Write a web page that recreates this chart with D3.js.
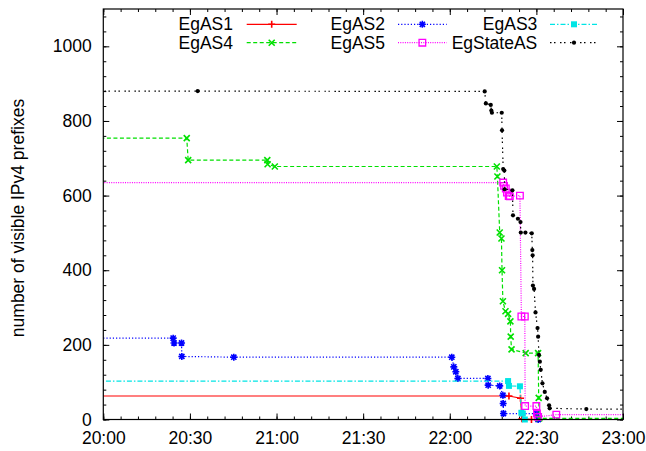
<!DOCTYPE html>
<html><head><meta charset="utf-8">
<script src="https://cdn.jsdelivr.net/npm/d3@7"></script>
<style>
html,body{margin:0;padding:0;background:#fff;}
svg text{font-family:"Liberation Sans",Arial,Helvetica,sans-serif;}
</style></head>
<body><svg id="c" width="646" height="451"></svg>
<script>
// ---- data (times as HH:MM:SS, values = number of visible prefixes) ----
const xTickLabels = ["20:00","20:30","21:00","21:30","22:00","22:30","23:00"];
const yTickValues = [0,200,400,600,800,1000];

const as1Times  = ["19:50:00","22:20:30","22:24:30","22:25:00","22:28:18","23:10:00"];
const as1Values = [63,63,57,2,0,0];

const as2Times  = ["19:50:00","20:24:12","20:24:30","20:27:06","20:27:12","20:45:12","22:00:42","22:01:24","22:02:06","22:02:48","22:13:12","22:13:18","22:17:18","22:18:24","22:18:30","22:18:36","22:30:06","22:30:36","23:10:00"];
const as2Values = [218,218,205,205,169,167,167,141,128,110,110,92,90,65,43,16,16,0,0];

const as3Times  = ["19:50:00","22:20:12","22:20:30","22:24:18","22:24:48","22:25:18","22:26:00","23:10:00"];
const as3Values = [103,103,90,89,18,16,0,0];

const as4Times  = ["19:50:00","20:28:54","20:29:24","20:56:48","20:56:54","20:59:24","22:16:18","22:16:30","22:17:18","22:17:54","22:18:06","22:18:24","22:19:18","22:20:12","22:21:00","22:21:06","22:21:24","22:26:18","22:30:36","22:30:48","22:31:00","23:10:00"];
const as4Values = [754,754,695,695,684,678,678,651,501,485,400,317,290,283,263,222,188,178,178,58,3,3];

const as5Times  = ["19:50:00","22:18:30","22:18:48","22:19:24","22:19:48","22:20:24","22:20:48","22:24:18","22:24:48","22:26:00","22:26:06","22:30:00","22:30:12","22:30:36","22:36:54","23:10:00"];
const as5Values = [635,635,626,619,608,599,598,600,276,276,36,36,16,7,13,13];

const stateTimes  = ["19:50:00","20:32:42","22:12:06","22:12:30","22:14:12","22:14:24","22:14:36","22:18:00","22:18:06","22:18:30","22:18:54","22:19:00","22:21:42","22:21:54","22:23:36","22:24:30","22:24:36","22:26:12","22:28:24","22:28:36","22:28:42","22:28:48","22:29:12","22:29:42","22:30:24","22:30:36","22:30:54","22:31:12","22:31:30","22:32:06","22:32:54","22:33:42","22:34:24","22:34:36","22:47:18","23:10:00"];
const stateValues = [880,880,879,847,843,828,822,822,775,671,667,617,614,547,538,529,501,501,499,454,440,359,350,287,245,222,173,155,133,97,74,57,38,30,28,28];

const seriesNames = ["EgAS1","EgAS2","EgAS3","EgAS4","EgAS5","EgStateAS"];
const yLabel = "number of visible IPv4 prefixes";

// ---- styles ----
const styles = [
  {color:"#ff0000", dash:null,        marker:"plus"},
  {color:"#0000ff", dash:"1.2,2",     marker:"star"},
  {color:"#00e5e5", dash:"5,2,1.5,2", marker:"fsquare"},
  {color:"#00e000", dash:"4,2.5",     marker:"cross"},
  {color:"#ff00ff", dash:"1,1.3",     marker:"osquare"},
  {color:"#000000", dash:"1.5,2.5,1.5,4.5", marker:"circle"}
];
const allTimes = [as1Times,as2Times,as3Times,as4Times,as5Times,stateTimes];
const allValues = [as1Values,as2Values,as3Values,as4Values,as5Values,stateValues];

const parse = d3.timeParse("%H:%M:%S");
const parseHM = d3.timeParse("%H:%M");
const L = 103.3, R = 623, T = 9, B = 419.5;
const x = d3.scaleTime().domain([parseHM("20:00"), parseHM("23:00")]).range([L, R]);
const y = d3.scaleLinear().domain([0, 1100]).range([B, T]);

const svg = d3.select("#c");
const FS = "17.5px";

svg.append("defs").append("clipPath").attr("id","clip")
  .append("rect").attr("x",L).attr("y",T).attr("width",R-L).attr("height",B-T);

// ticks
const xMajor = xTickLabels.map(parseHM);
const xMinor = d3.timeMinute.every(6).range(parseHM("20:00"), parseHM("23:01"));
const yMinor = d3.range(0, 1101, 40);

function addAxis(gen, tr, labels){
  const g = svg.append("g").attr("transform", tr).call(gen);
  g.select(".domain").remove();
  g.selectAll("line").attr("stroke","#000").attr("stroke-width",1);
  g.selectAll("text").attr("font-size",FS).attr("fill","#000");
  if(!labels) g.selectAll("text").remove();
  return g;
}
addAxis(d3.axisBottom(x).tickValues(xMajor).tickFormat(d3.timeFormat("%H:%M")).tickSizeInner(-6).tickSizeOuter(0).tickPadding(12), `translate(0,${B})`, true);
addAxis(d3.axisBottom(x).tickValues(xMinor).tickSizeInner(-3).tickSizeOuter(0), `translate(0,${B})`, false);
addAxis(d3.axisTop(x).tickValues(xMajor).tickSizeInner(-6).tickSizeOuter(0), `translate(0,${T})`, false);
addAxis(d3.axisTop(x).tickValues(xMinor).tickSizeInner(-3).tickSizeOuter(0), `translate(0,${T})`, false);
addAxis(d3.axisLeft(y).tickValues(yTickValues).tickFormat(d3.format("d")).tickSizeInner(-6).tickSizeOuter(0).tickPadding(11.5), `translate(${L},0)`, true);
addAxis(d3.axisLeft(y).tickValues(yMinor).tickSizeInner(-3).tickSizeOuter(0), `translate(${L},0)`, false);
addAxis(d3.axisRight(y).tickValues(yTickValues).tickSizeInner(-6).tickSizeOuter(0), `translate(${R},0)`, false);
addAxis(d3.axisRight(y).tickValues(yMinor).tickSizeInner(-3).tickSizeOuter(0), `translate(${R},0)`, false);

// markers
function markerPath(type){
  const s = 3.5;
  switch(type){
    case "plus": return `M${-s},0H${s}M0,${-s}V${s}`;
    case "cross": return `M-3,-3L3,3M-3,3L3,-3`;
    case "star": return `M${-s},0H${s}M0,${-s}V${s}M-2.6,-2.6L2.6,2.6M-2.6,2.6L2.6,-2.6`;
    case "fsquare": return `M-3,-3H3V3H-3Z`;
    case "osquare": return `M-3.3,-3.3H3.3V3.3H-3.3Z`;
  }
  return null;
}
function drawMarker(g, type, color, px, py){
  if(type === "circle"){
    g.append("circle").attr("cx",px).attr("cy",py).attr("r",2.1).attr("fill",color);
    return;
  }
  const p = g.append("path").attr("d", markerPath(type)).attr("transform",`translate(${px},${py})`);
  if(type === "fsquare") p.attr("fill",color).attr("stroke","none");
  else if(type === "osquare") p.attr("fill","none").attr("stroke",color).attr("stroke-width",1.3);
  else p.attr("fill","none").attr("stroke",color).attr("stroke-width",1.6);
}

const line = d3.line().x(d=>x(d.t)).y(d=>y(d.v));
const x0 = parseHM("20:00"), x1 = parseHM("23:00");

seriesNames.forEach((name,i)=>{
  const st = styles[i];
  const data = allTimes[i].map((t,j)=>({t:parse(t), v:allValues[i][j]}));
  const path = svg.append("path").attr("clip-path","url(#clip)")
    .attr("d", line(data)).attr("fill","none").attr("stroke",st.color).attr("stroke-width",1.2);
  if(st.dash) path.attr("stroke-dasharray", st.dash);
  const g = svg.append("g");
  data.filter(d=>d.t>=x0 && d.t<=x1).forEach(d=>drawMarker(g, st.marker, st.color, x(d.t), y(d.v)));
});

// frame
svg.append("rect").attr("x",L).attr("y",T).attr("width",R-L).attr("height",B-T)
  .attr("fill","none").attr("stroke","#000").attr("stroke-width",1.2);

// legend
const legCols = [{tx:233, l0:246.7, l1:296.7}, {tx:385, l0:398, l1:446.7}, {tx:537.3, l0:550, l1:598}];
const legRows = [24.3, 42.7];
seriesNames.forEach((name,i)=>{
  const c = legCols[i%3], ry = legRows[Math.floor(i/3)], st = styles[i];
  svg.append("text").attr("x",c.tx).attr("y",ry+6).attr("text-anchor","end")
    .attr("font-size",FS).attr("fill","#000").text(name);
  const ln = svg.append("line").attr("x1",c.l0).attr("x2",c.l1).attr("y1",ry).attr("y2",ry)
    .attr("stroke",st.color).attr("stroke-width",1.2);
  if(st.dash) ln.attr("stroke-dasharray", st.dash);
  drawMarker(svg.append("g"), st.marker, st.color, (c.l0+c.l1)/2, ry);
});

// y label
svg.append("text").attr("transform",`translate(24,218) rotate(-90)`).attr("text-anchor","middle")
  .attr("font-size",FS).attr("fill","#000").text(yLabel);
</script></body></html>
